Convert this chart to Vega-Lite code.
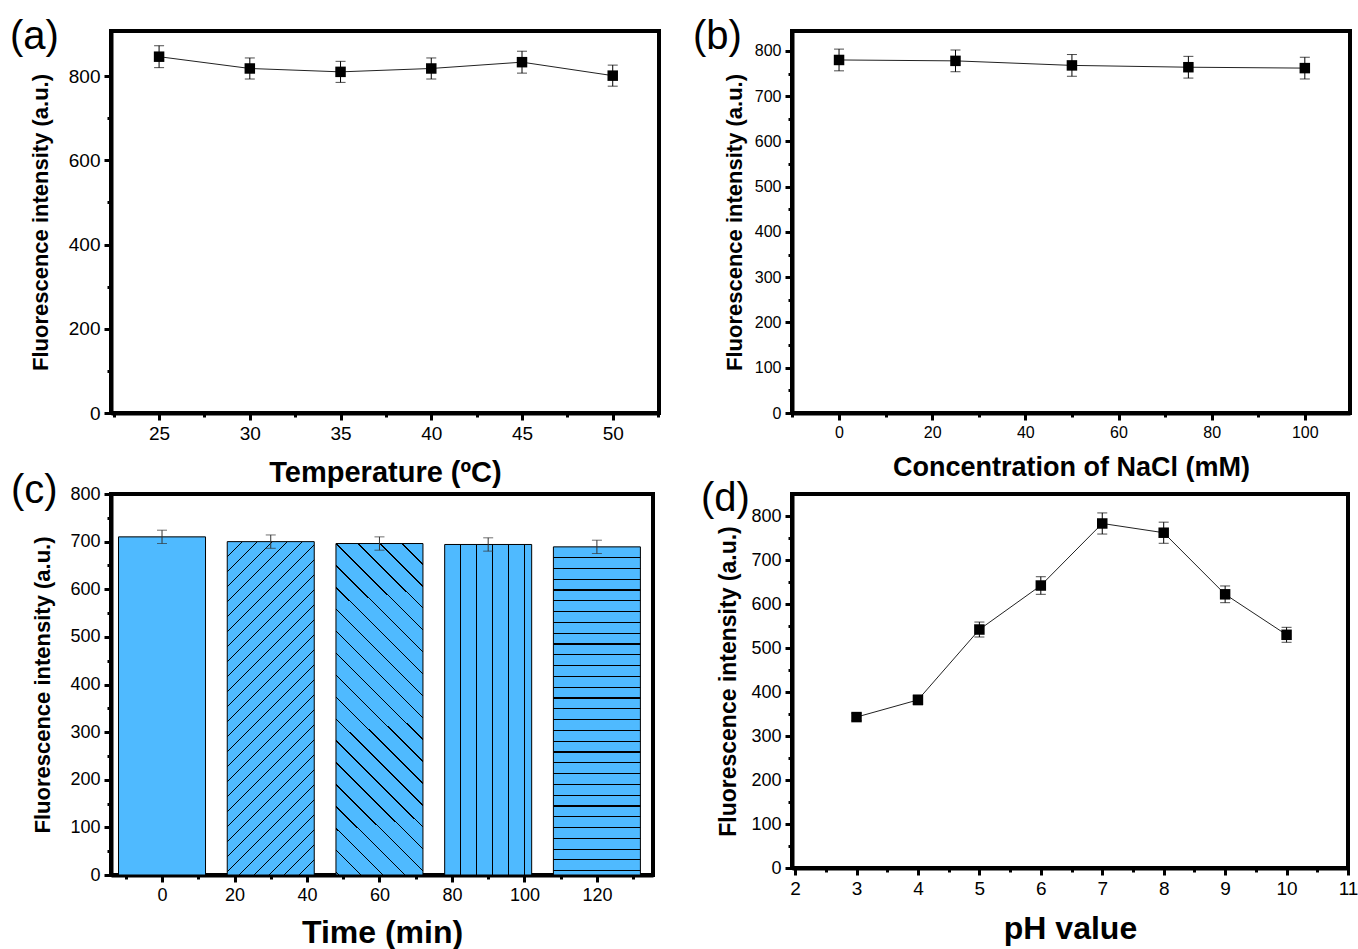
{
  "$schema": "https://vega.github.io/schema/vega-lite/v6.json",
  "padding": {"left": 8, "top": 14, "right": 0, "bottom": 0},
  "background": "white",
  "columns": 2,
  "bounds": "flush",
  "spacing": {"row": 81, "column": 133},
  "config": {
    "font": "Liberation Sans",
    "view": {"stroke": "black", "strokeWidth": 4},
    "axis": {
      "domainColor": "black", "domainWidth": 4, "tickColor": "black", "tickWidth": 3,
      "labelColor": "black", "titleColor": "black", "grid": false, "labelFlush": false, "labelOverlap": false,
      "labelFont": "Liberation Sans", "titleFont": "Liberation Sans", "titleFontWeight": "bold", "labelPadding": 4
    },
    "title": {"anchor": "start", "frame": "group", "fontSize": 40, "fontWeight": "normal", "font": "Liberation Sans", "color": "black", "baseline": "alphabetic"}
  },
  "datasets": {
    "temp": [
      {"temperature": 25, "intensity": 846, "err": 26},
      {"temperature": 30, "intensity": 818, "err": 25},
      {"temperature": 35, "intensity": 810, "err": 25},
      {"temperature": 40, "intensity": 818, "err": 25},
      {"temperature": 45, "intensity": 833, "err": 26},
      {"temperature": 50, "intensity": 801, "err": 25}
    ],
    "nacl": [
      {"nacl": 0, "intensity": 780, "err": 24},
      {"nacl": 25, "intensity": 778, "err": 24},
      {"nacl": 50, "intensity": 768, "err": 24},
      {"nacl": 75, "intensity": 764, "err": 24},
      {"nacl": 100, "intensity": 762, "err": 24}
    ],
    "time": [
      {"time": 0, "intensity": 710, "err": 14},
      {"time": 30, "intensity": 700, "err": 14},
      {"time": 60, "intensity": 696, "err": 14},
      {"time": 90, "intensity": 694, "err": 14},
      {"time": 120, "intensity": 689, "err": 14}
    ],
    "ph": [
      {"ph": 3, "intensity": 343, "err": 8},
      {"ph": 4, "intensity": 382, "err": 11},
      {"ph": 5, "intensity": 542, "err": 17},
      {"ph": 6, "intensity": 642, "err": 20},
      {"ph": 7, "intensity": 783, "err": 24},
      {"ph": 8, "intensity": 762, "err": 24},
      {"ph": 9, "intensity": 622, "err": 19},
      {"ph": 10, "intensity": 530, "err": 17}
    ]
  },
  "concat": [
    {
      "title": {"text": "(a)", "dx": -101, "offset": -25.5},
      "width": 548, "height": 382,
      "data": {"name": "temp"},
      "encoding": {
        "x": {"field": "temperature", "type": "quantitative", "scale": {"domain": [22.35, 52.55], "nice": false, "zero": false},
          "axis": {"values": [22.5, 25, 27.5, 30, 32.5, 35, 37.5, 40, 42.5, 45, 47.5, 50, 52.5],
            "labelExpr": "datum.value % 5 == 0 ? format(datum.value, 'd') : ''",
            "tickSize": {"condition": {"test": "datum.value % 5 != 0", "value": 4}, "value": 7},
            "title": "Temperature (ºC)", "titleFontSize": 29, "labelFontSize": 19, "titlePadding": 15}},
        "y": {"field": "intensity", "type": "quantitative", "scale": {"domain": [0, 907], "nice": false},
          "axis": {"values": [0, 100, 200, 300, 400, 500, 600, 700, 800],
            "labelExpr": "datum.value % 200 == 0 ? format(datum.value, 'd') : ''",
            "tickSize": {"condition": {"test": "datum.value % 200 != 0", "value": 4}, "value": 7},
            "title": "Fluorescence intensity (a.u.)", "titleFontSize": 22, "labelFontSize": 19, "titlePadding": 16}}
      },
      "layer": [
        {"mark": {"type": "line", "color": "#222", "strokeWidth": 1}},
        {"mark": {"type": "errorbar", "color": "black", "ticks": {"size": 10}, "thickness": 1}, "encoding": {"yError": {"field": "err"}}},
        {"mark": {"type": "point", "shape": "square", "filled": true, "color": "black", "opacity": 1, "size": 110}}
      ]
    },
    {
      "title": {"text": "(b)", "dx": -99, "offset": -25.5},
      "width": 558, "height": 382,
      "data": {"name": "nacl"},
      "encoding": {
        "x": {"field": "nacl", "type": "quantitative", "scale": {"domain": [-10.1, 109.7], "nice": false, "zero": false},
          "axis": {"values": [-10, 0, 10, 20, 30, 40, 50, 60, 70, 80, 90, 100],
            "labelExpr": "datum.value % 20 == 0 ? format(datum.value, 'd') : ''",
            "tickSize": {"condition": {"test": "datum.value % 20 != 0", "value": 4}, "value": 7},
            "title": "Concentration of NaCl (mM)", "titleFontSize": 27, "labelFontSize": 16, "titlePadding": 14}},
        "y": {"field": "intensity", "type": "quantitative", "scale": {"domain": [0, 844], "nice": false},
          "axis": {"values": [0, 50, 100, 150, 200, 250, 300, 350, 400, 450, 500, 550, 600, 650, 700, 750, 800],
            "labelExpr": "datum.value % 100 == 0 ? format(datum.value, 'd') : ''",
            "tickSize": {"condition": {"test": "datum.value % 100 != 0", "value": 4}, "value": 7},
            "title": "Fluorescence intensity (a.u.)", "titleFontSize": 22, "labelFontSize": 16, "titlePadding": 8}}
      },
      "layer": [
        {"mark": {"type": "line", "color": "#222", "strokeWidth": 1}},
        {"mark": {"type": "errorbar", "color": "black", "ticks": {"size": 10}, "thickness": 1}, "encoding": {"yError": {"field": "err"}}},
        {"mark": {"type": "point", "shape": "square", "filled": true, "color": "black", "opacity": 1, "size": 110}}
      ]
    },
    {
      "title": {"text": "(c)", "dx": -100, "offset": -26},
      "width": 542, "height": 381,
      "data": {"name": "time"},
      "encoding": {
        "x": {"field": "time", "type": "quantitative", "scale": {"domain": [-12.7, 134.1], "nice": false, "zero": false},
          "axis": {"values": [-10, 0, 10, 20, 30, 40, 50, 60, 70, 80, 90, 100, 110, 120, 130],
            "labelExpr": "datum.value % 20 == 0 ? format(datum.value, 'd') : ''",
            "tickSize": {"condition": {"test": "datum.value % 20 != 0", "value": 4}, "value": 7},
            "title": "Time (min)", "titleFontSize": 32, "labelFontSize": 18, "titlePadding": 13}},
        "y": {"field": "intensity", "type": "quantitative", "scale": {"domain": [0, 800], "nice": false},
          "axis": {"values": [0, 50, 100, 150, 200, 250, 300, 350, 400, 450, 500, 550, 600, 650, 700, 750, 800],
            "labelExpr": "datum.value % 100 == 0 ? format(datum.value, 'd') : ''",
            "tickSize": {"condition": {"test": "datum.value % 100 != 0", "value": 4}, "value": 7},
            "title": "Fluorescence intensity (a.u.)", "titleFontSize": 22, "labelFontSize": 18, "titlePadding": 15}}
      },
      "layer": [
        {"transform": [{"filter": "datum.time == 0"}], "mark": {"type": "bar", "width": 87, "fill": "#4FBAFF", "stroke": "black", "strokeWidth": 1}},
        {"transform": [{"filter": "datum.time == 30"}], "mark": {"type": "bar", "width": 87, "stroke": "black", "strokeWidth": 1,
          "fill": {"gradient": "linear", "x1": 0, "y1": 0, "x2": 0.3083, "y2": 1.1806, "stops": [
            {"offset": 0, "color": "#4FBAFF"},
            {"offset": 0.0340, "color": "#4FBAFF"}, {"offset": 0.0340, "color": "#000"}, {"offset": 0.0374, "color": "#000"}, {"offset": 0.0374, "color": "#4FBAFF"},
            {"offset": 0.0697, "color": "#4FBAFF"}, {"offset": 0.0697, "color": "#000"}, {"offset": 0.0731, "color": "#000"}, {"offset": 0.0731, "color": "#4FBAFF"},
            {"offset": 0.1054, "color": "#4FBAFF"}, {"offset": 0.1054, "color": "#000"}, {"offset": 0.1088, "color": "#000"}, {"offset": 0.1088, "color": "#4FBAFF"},
            {"offset": 0.1411, "color": "#4FBAFF"}, {"offset": 0.1411, "color": "#000"}, {"offset": 0.1445, "color": "#000"}, {"offset": 0.1445, "color": "#4FBAFF"},
            {"offset": 0.1768, "color": "#4FBAFF"}, {"offset": 0.1768, "color": "#000"}, {"offset": 0.1802, "color": "#000"}, {"offset": 0.1802, "color": "#4FBAFF"},
            {"offset": 0.2125, "color": "#4FBAFF"}, {"offset": 0.2125, "color": "#000"}, {"offset": 0.2159, "color": "#000"}, {"offset": 0.2159, "color": "#4FBAFF"},
            {"offset": 0.2482, "color": "#4FBAFF"}, {"offset": 0.2482, "color": "#000"}, {"offset": 0.2516, "color": "#000"}, {"offset": 0.2516, "color": "#4FBAFF"},
            {"offset": 0.2839, "color": "#4FBAFF"}, {"offset": 0.2839, "color": "#000"}, {"offset": 0.2873, "color": "#000"}, {"offset": 0.2873, "color": "#4FBAFF"},
            {"offset": 0.3196, "color": "#4FBAFF"}, {"offset": 0.3196, "color": "#000"}, {"offset": 0.3230, "color": "#000"}, {"offset": 0.3230, "color": "#4FBAFF"},
            {"offset": 0.3553, "color": "#4FBAFF"}, {"offset": 0.3553, "color": "#000"}, {"offset": 0.3587, "color": "#000"}, {"offset": 0.3587, "color": "#4FBAFF"},
            {"offset": 0.3910, "color": "#4FBAFF"}, {"offset": 0.3910, "color": "#000"}, {"offset": 0.3944, "color": "#000"}, {"offset": 0.3944, "color": "#4FBAFF"},
            {"offset": 0.4267, "color": "#4FBAFF"}, {"offset": 0.4267, "color": "#000"}, {"offset": 0.4301, "color": "#000"}, {"offset": 0.4301, "color": "#4FBAFF"},
            {"offset": 0.4624, "color": "#4FBAFF"}, {"offset": 0.4624, "color": "#000"}, {"offset": 0.4658, "color": "#000"}, {"offset": 0.4658, "color": "#4FBAFF"},
            {"offset": 0.4981, "color": "#4FBAFF"}, {"offset": 0.4981, "color": "#000"}, {"offset": 0.5015, "color": "#000"}, {"offset": 0.5015, "color": "#4FBAFF"},
            {"offset": 0.5338, "color": "#4FBAFF"}, {"offset": 0.5338, "color": "#000"}, {"offset": 0.5372, "color": "#000"}, {"offset": 0.5372, "color": "#4FBAFF"},
            {"offset": 0.5695, "color": "#4FBAFF"}, {"offset": 0.5695, "color": "#000"}, {"offset": 0.5729, "color": "#000"}, {"offset": 0.5729, "color": "#4FBAFF"},
            {"offset": 0.6052, "color": "#4FBAFF"}, {"offset": 0.6052, "color": "#000"}, {"offset": 0.6086, "color": "#000"}, {"offset": 0.6086, "color": "#4FBAFF"},
            {"offset": 0.6409, "color": "#4FBAFF"}, {"offset": 0.6409, "color": "#000"}, {"offset": 0.6443, "color": "#000"}, {"offset": 0.6443, "color": "#4FBAFF"},
            {"offset": 0.6766, "color": "#4FBAFF"}, {"offset": 0.6766, "color": "#000"}, {"offset": 0.6800, "color": "#000"}, {"offset": 0.6800, "color": "#4FBAFF"},
            {"offset": 0.7123, "color": "#4FBAFF"}, {"offset": 0.7123, "color": "#000"}, {"offset": 0.7157, "color": "#000"}, {"offset": 0.7157, "color": "#4FBAFF"},
            {"offset": 0.7480, "color": "#4FBAFF"}, {"offset": 0.7480, "color": "#000"}, {"offset": 0.7514, "color": "#000"}, {"offset": 0.7514, "color": "#4FBAFF"},
            {"offset": 0.7837, "color": "#4FBAFF"}, {"offset": 0.7837, "color": "#000"}, {"offset": 0.7871, "color": "#000"}, {"offset": 0.7871, "color": "#4FBAFF"},
            {"offset": 0.8194, "color": "#4FBAFF"}, {"offset": 0.8194, "color": "#000"}, {"offset": 0.8228, "color": "#000"}, {"offset": 0.8228, "color": "#4FBAFF"},
            {"offset": 0.8551, "color": "#4FBAFF"}, {"offset": 0.8551, "color": "#000"}, {"offset": 0.8585, "color": "#000"}, {"offset": 0.8585, "color": "#4FBAFF"},
            {"offset": 0.8908, "color": "#4FBAFF"}, {"offset": 0.8908, "color": "#000"}, {"offset": 0.8942, "color": "#000"}, {"offset": 0.8942, "color": "#4FBAFF"},
            {"offset": 0.9265, "color": "#4FBAFF"}, {"offset": 0.9265, "color": "#000"}, {"offset": 0.9299, "color": "#000"}, {"offset": 0.9299, "color": "#4FBAFF"},
            {"offset": 0.9622, "color": "#4FBAFF"}, {"offset": 0.9622, "color": "#000"}, {"offset": 0.9656, "color": "#000"}, {"offset": 0.9656, "color": "#4FBAFF"},
            {"offset": 1, "color": "#4FBAFF"}
          ]}}},
        {"transform": [{"filter": "datum.time == 60"}], "mark": {"type": "bar", "width": 87, "stroke": "black", "strokeWidth": 1,
          "fill": {"gradient": "linear", "x1": 0, "y1": 1, "x2": 0.3083, "y2": -0.1806, "stops": [
            {"offset": 0, "color": "#4FBAFF"},
            {"offset": 0.0053, "color": "#4FBAFF"}, {"offset": 0.0053, "color": "#000"}, {"offset": 0.0087, "color": "#000"}, {"offset": 0.0087, "color": "#4FBAFF"},
            {"offset": 0.0577, "color": "#4FBAFF"}, {"offset": 0.0577, "color": "#000"}, {"offset": 0.0611, "color": "#000"}, {"offset": 0.0611, "color": "#4FBAFF"},
            {"offset": 0.1101, "color": "#4FBAFF"}, {"offset": 0.1101, "color": "#000"}, {"offset": 0.1135, "color": "#000"}, {"offset": 0.1135, "color": "#4FBAFF"},
            {"offset": 0.1625, "color": "#4FBAFF"}, {"offset": 0.1625, "color": "#000"}, {"offset": 0.1659, "color": "#000"}, {"offset": 0.1659, "color": "#4FBAFF"},
            {"offset": 0.2149, "color": "#4FBAFF"}, {"offset": 0.2149, "color": "#000"}, {"offset": 0.2183, "color": "#000"}, {"offset": 0.2183, "color": "#4FBAFF"},
            {"offset": 0.2673, "color": "#4FBAFF"}, {"offset": 0.2673, "color": "#000"}, {"offset": 0.2707, "color": "#000"}, {"offset": 0.2707, "color": "#4FBAFF"},
            {"offset": 0.3197, "color": "#4FBAFF"}, {"offset": 0.3197, "color": "#000"}, {"offset": 0.3231, "color": "#000"}, {"offset": 0.3231, "color": "#4FBAFF"},
            {"offset": 0.3721, "color": "#4FBAFF"}, {"offset": 0.3721, "color": "#000"}, {"offset": 0.3755, "color": "#000"}, {"offset": 0.3755, "color": "#4FBAFF"},
            {"offset": 0.4245, "color": "#4FBAFF"}, {"offset": 0.4245, "color": "#000"}, {"offset": 0.4279, "color": "#000"}, {"offset": 0.4279, "color": "#4FBAFF"},
            {"offset": 0.4769, "color": "#4FBAFF"}, {"offset": 0.4769, "color": "#000"}, {"offset": 0.4803, "color": "#000"}, {"offset": 0.4803, "color": "#4FBAFF"},
            {"offset": 0.5293, "color": "#4FBAFF"}, {"offset": 0.5293, "color": "#000"}, {"offset": 0.5327, "color": "#000"}, {"offset": 0.5327, "color": "#4FBAFF"},
            {"offset": 0.5817, "color": "#4FBAFF"}, {"offset": 0.5817, "color": "#000"}, {"offset": 0.5851, "color": "#000"}, {"offset": 0.5851, "color": "#4FBAFF"},
            {"offset": 0.6341, "color": "#4FBAFF"}, {"offset": 0.6341, "color": "#000"}, {"offset": 0.6375, "color": "#000"}, {"offset": 0.6375, "color": "#4FBAFF"},
            {"offset": 0.6865, "color": "#4FBAFF"}, {"offset": 0.6865, "color": "#000"}, {"offset": 0.6899, "color": "#000"}, {"offset": 0.6899, "color": "#4FBAFF"},
            {"offset": 0.7389, "color": "#4FBAFF"}, {"offset": 0.7389, "color": "#000"}, {"offset": 0.7423, "color": "#000"}, {"offset": 0.7423, "color": "#4FBAFF"},
            {"offset": 0.7913, "color": "#4FBAFF"}, {"offset": 0.7913, "color": "#000"}, {"offset": 0.7947, "color": "#000"}, {"offset": 0.7947, "color": "#4FBAFF"},
            {"offset": 0.8437, "color": "#4FBAFF"}, {"offset": 0.8437, "color": "#000"}, {"offset": 0.8471, "color": "#000"}, {"offset": 0.8471, "color": "#4FBAFF"},
            {"offset": 0.8961, "color": "#4FBAFF"}, {"offset": 0.8961, "color": "#000"}, {"offset": 0.8995, "color": "#000"}, {"offset": 0.8995, "color": "#4FBAFF"},
            {"offset": 0.9485, "color": "#4FBAFF"}, {"offset": 0.9485, "color": "#000"}, {"offset": 0.9519, "color": "#000"}, {"offset": 0.9519, "color": "#4FBAFF"},
            {"offset": 1, "color": "#4FBAFF"}
          ]}}},
        {"transform": [{"filter": "datum.time == 90"}], "mark": {"type": "bar", "width": 87, "stroke": "black", "strokeWidth": 1,
          "fill": {"gradient": "linear", "x1": 0, "y1": 0, "x2": 1, "y2": 0, "stops": [
            {"offset": 0, "color": "#4FBAFF"},
            {"offset": 0.179, "color": "#4FBAFF"}, {"offset": 0.179, "color": "#000"}, {"offset": 0.191, "color": "#000"}, {"offset": 0.191, "color": "#4FBAFF"},
            {"offset": 0.362, "color": "#4FBAFF"}, {"offset": 0.362, "color": "#000"}, {"offset": 0.374, "color": "#000"}, {"offset": 0.374, "color": "#4FBAFF"},
            {"offset": 0.545, "color": "#4FBAFF"}, {"offset": 0.545, "color": "#000"}, {"offset": 0.557, "color": "#000"}, {"offset": 0.557, "color": "#4FBAFF"},
            {"offset": 0.728, "color": "#4FBAFF"}, {"offset": 0.728, "color": "#000"}, {"offset": 0.740, "color": "#000"}, {"offset": 0.740, "color": "#4FBAFF"},
            {"offset": 0.911, "color": "#4FBAFF"}, {"offset": 0.911, "color": "#000"}, {"offset": 0.923, "color": "#000"}, {"offset": 0.923, "color": "#4FBAFF"},
            {"offset": 1, "color": "#4FBAFF"}
          ]}}},
        {"transform": [{"filter": "datum.time == 120"}], "mark": {"type": "bar", "width": 87, "stroke": "black", "strokeWidth": 1,
          "fill": {"gradient": "linear", "x1": 0, "y1": 0, "x2": 0, "y2": 1, "stops": [
            {"offset": 0, "color": "#4FBAFF"},
            {"offset": 0.0312, "color": "#4FBAFF"}, {"offset": 0.0312, "color": "#000"}, {"offset": 0.0346, "color": "#000"}, {"offset": 0.0346, "color": "#4FBAFF"},
            {"offset": 0.0641, "color": "#4FBAFF"}, {"offset": 0.0641, "color": "#000"}, {"offset": 0.0675, "color": "#000"}, {"offset": 0.0675, "color": "#4FBAFF"},
            {"offset": 0.0970, "color": "#4FBAFF"}, {"offset": 0.0970, "color": "#000"}, {"offset": 0.1004, "color": "#000"}, {"offset": 0.1004, "color": "#4FBAFF"},
            {"offset": 0.1299, "color": "#4FBAFF"}, {"offset": 0.1299, "color": "#000"}, {"offset": 0.1333, "color": "#000"}, {"offset": 0.1333, "color": "#4FBAFF"},
            {"offset": 0.1628, "color": "#4FBAFF"}, {"offset": 0.1628, "color": "#000"}, {"offset": 0.1662, "color": "#000"}, {"offset": 0.1662, "color": "#4FBAFF"},
            {"offset": 0.1957, "color": "#4FBAFF"}, {"offset": 0.1957, "color": "#000"}, {"offset": 0.1991, "color": "#000"}, {"offset": 0.1991, "color": "#4FBAFF"},
            {"offset": 0.2286, "color": "#4FBAFF"}, {"offset": 0.2286, "color": "#000"}, {"offset": 0.2320, "color": "#000"}, {"offset": 0.2320, "color": "#4FBAFF"},
            {"offset": 0.2615, "color": "#4FBAFF"}, {"offset": 0.2615, "color": "#000"}, {"offset": 0.2649, "color": "#000"}, {"offset": 0.2649, "color": "#4FBAFF"},
            {"offset": 0.2944, "color": "#4FBAFF"}, {"offset": 0.2944, "color": "#000"}, {"offset": 0.2978, "color": "#000"}, {"offset": 0.2978, "color": "#4FBAFF"},
            {"offset": 0.3273, "color": "#4FBAFF"}, {"offset": 0.3273, "color": "#000"}, {"offset": 0.3307, "color": "#000"}, {"offset": 0.3307, "color": "#4FBAFF"},
            {"offset": 0.3602, "color": "#4FBAFF"}, {"offset": 0.3602, "color": "#000"}, {"offset": 0.3636, "color": "#000"}, {"offset": 0.3636, "color": "#4FBAFF"},
            {"offset": 0.3931, "color": "#4FBAFF"}, {"offset": 0.3931, "color": "#000"}, {"offset": 0.3965, "color": "#000"}, {"offset": 0.3965, "color": "#4FBAFF"},
            {"offset": 0.4260, "color": "#4FBAFF"}, {"offset": 0.4260, "color": "#000"}, {"offset": 0.4294, "color": "#000"}, {"offset": 0.4294, "color": "#4FBAFF"},
            {"offset": 0.4589, "color": "#4FBAFF"}, {"offset": 0.4589, "color": "#000"}, {"offset": 0.4623, "color": "#000"}, {"offset": 0.4623, "color": "#4FBAFF"},
            {"offset": 0.4918, "color": "#4FBAFF"}, {"offset": 0.4918, "color": "#000"}, {"offset": 0.4952, "color": "#000"}, {"offset": 0.4952, "color": "#4FBAFF"},
            {"offset": 0.5247, "color": "#4FBAFF"}, {"offset": 0.5247, "color": "#000"}, {"offset": 0.5281, "color": "#000"}, {"offset": 0.5281, "color": "#4FBAFF"},
            {"offset": 0.5576, "color": "#4FBAFF"}, {"offset": 0.5576, "color": "#000"}, {"offset": 0.5610, "color": "#000"}, {"offset": 0.5610, "color": "#4FBAFF"},
            {"offset": 0.5905, "color": "#4FBAFF"}, {"offset": 0.5905, "color": "#000"}, {"offset": 0.5939, "color": "#000"}, {"offset": 0.5939, "color": "#4FBAFF"},
            {"offset": 0.6234, "color": "#4FBAFF"}, {"offset": 0.6234, "color": "#000"}, {"offset": 0.6268, "color": "#000"}, {"offset": 0.6268, "color": "#4FBAFF"},
            {"offset": 0.6563, "color": "#4FBAFF"}, {"offset": 0.6563, "color": "#000"}, {"offset": 0.6597, "color": "#000"}, {"offset": 0.6597, "color": "#4FBAFF"},
            {"offset": 0.6892, "color": "#4FBAFF"}, {"offset": 0.6892, "color": "#000"}, {"offset": 0.6926, "color": "#000"}, {"offset": 0.6926, "color": "#4FBAFF"},
            {"offset": 0.7221, "color": "#4FBAFF"}, {"offset": 0.7221, "color": "#000"}, {"offset": 0.7255, "color": "#000"}, {"offset": 0.7255, "color": "#4FBAFF"},
            {"offset": 0.7550, "color": "#4FBAFF"}, {"offset": 0.7550, "color": "#000"}, {"offset": 0.7584, "color": "#000"}, {"offset": 0.7584, "color": "#4FBAFF"},
            {"offset": 0.7879, "color": "#4FBAFF"}, {"offset": 0.7879, "color": "#000"}, {"offset": 0.7913, "color": "#000"}, {"offset": 0.7913, "color": "#4FBAFF"},
            {"offset": 0.8208, "color": "#4FBAFF"}, {"offset": 0.8208, "color": "#000"}, {"offset": 0.8242, "color": "#000"}, {"offset": 0.8242, "color": "#4FBAFF"},
            {"offset": 0.8537, "color": "#4FBAFF"}, {"offset": 0.8537, "color": "#000"}, {"offset": 0.8571, "color": "#000"}, {"offset": 0.8571, "color": "#4FBAFF"},
            {"offset": 0.8866, "color": "#4FBAFF"}, {"offset": 0.8866, "color": "#000"}, {"offset": 0.8900, "color": "#000"}, {"offset": 0.8900, "color": "#4FBAFF"},
            {"offset": 0.9195, "color": "#4FBAFF"}, {"offset": 0.9195, "color": "#000"}, {"offset": 0.9229, "color": "#000"}, {"offset": 0.9229, "color": "#4FBAFF"},
            {"offset": 0.9524, "color": "#4FBAFF"}, {"offset": 0.9524, "color": "#000"}, {"offset": 0.9558, "color": "#000"}, {"offset": 0.9558, "color": "#4FBAFF"},
            {"offset": 0.9853, "color": "#4FBAFF"}, {"offset": 0.9853, "color": "#000"}, {"offset": 0.9887, "color": "#000"}, {"offset": 0.9887, "color": "#4FBAFF"},
            {"offset": 1, "color": "#4FBAFF"}
          ]}}},
        {"mark": {"type": "errorbar", "color": "#333", "ticks": {"size": 10}, "thickness": 1}, "encoding": {"yError": {"field": "err"}}}
      ]
    },
    {
      "title": {"text": "(d)", "dx": -91, "offset": -25},
      "width": 556, "height": 374,
      "data": {"name": "ph"},
      "encoding": {
        "x": {"field": "ph", "type": "quantitative", "scale": {"domain": [1.95, 11], "nice": false, "zero": false},
          "axis": {"values": [2, 2.5, 3, 3.5, 4, 4.5, 5, 5.5, 6, 6.5, 7, 7.5, 8, 8.5, 9, 9.5, 10, 10.5, 11],
            "labelExpr": "datum.value % 1 == 0 ? format(datum.value, 'd') : ''",
            "tickSize": {"condition": {"test": "datum.value % 1 != 0", "value": 4}, "value": 7},
            "title": "pH value", "titleFontSize": 32, "labelFontSize": 19, "titlePadding": 15}},
        "y": {"field": "intensity", "type": "quantitative", "scale": {"domain": [0, 850], "nice": false},
          "axis": {"values": [0, 50, 100, 150, 200, 250, 300, 350, 400, 450, 500, 550, 600, 650, 700, 750, 800],
            "labelExpr": "datum.value % 100 == 0 ? format(datum.value, 'd') : ''",
            "tickSize": {"condition": {"test": "datum.value % 100 != 0", "value": 4}, "value": 7},
            "title": "Fluorescence intensity (a.u.)", "titleFontSize": 23, "labelFontSize": 18, "titlePadding": 10}}
      },
      "layer": [
        {"mark": {"type": "line", "color": "#222", "strokeWidth": 1}},
        {"mark": {"type": "errorbar", "color": "black", "ticks": {"size": 10}, "thickness": 1}, "encoding": {"yError": {"field": "err"}}},
        {"mark": {"type": "point", "shape": "square", "filled": true, "color": "black", "opacity": 1, "size": 110}}
      ]
    }
  ]
}
